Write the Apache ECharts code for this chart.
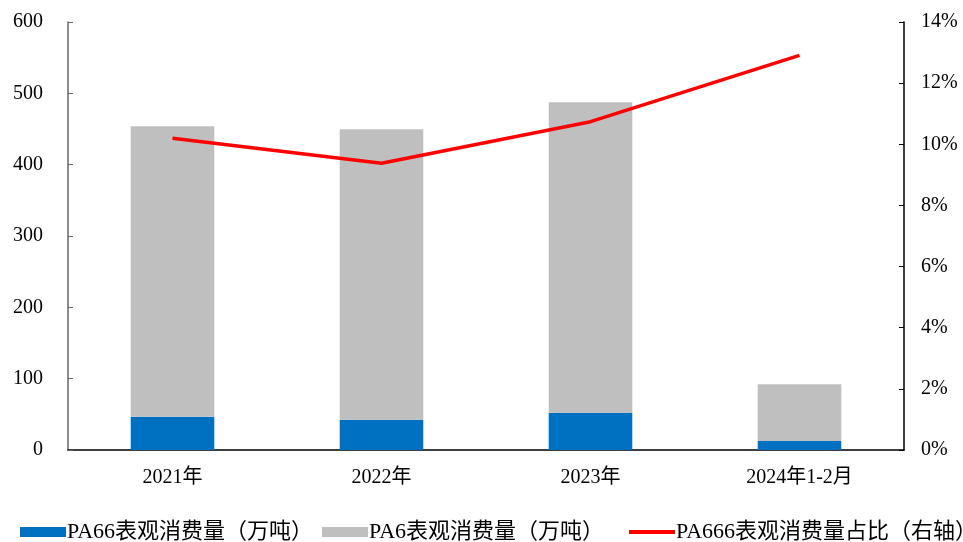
<!DOCTYPE html>
<html>
<head>
	<meta charset="UTF-8">
	<title>PA66 consumption</title>
	<style>html,body{margin:0;padding:0;background:#fff;}</style>
</head>
<body>
	<div id="main" style="width:963px;height:542px;"></div>

	<script type="text/javascript" src="https://cdn.jsdelivr.net/npm/echarts@6/dist/echarts.min.js"></script>
	<script type="text/javascript">
		var categories = ['2021年', '2022年', '2023年', '2024年1-2月'];
		// PA66 (blue, bottom of stack)
		var pa66 = [46.7, 42.5, 52.3, 12.6];
		// PA6 (gray, stacked on top)
		var pa6 = [407.3, 407.1, 435.1, 79.5];
		// ratio, right axis (%)
		var ratio = [10.2, 9.38, 10.74, 12.91];

		var leftTicks = { min: 0, max: 600, interval: 100 };
		var rightTicks = { min: 0, max: 14, interval: 2 };

		var font = '"Times New Roman","Liberation Serif","Noto Sans CJK SC",serif';

		var myChart = echarts.init(document.getElementById('main'));

		function legendFor(name, left, isLine) {
			return {
				left: left,
				top: 516,
				itemWidth: 46,
				itemHeight: isLine ? 4 : 10,
				icon: 'rect',
				itemGap: 0,
				data: [name],
				textStyle: { fontFamily: font, fontSize: 22, color: '#000', padding: [0, 0, 0, -4] }
			};
		}

		var option = {
			animation: false,
			textStyle: { fontFamily: font },
			grid: { left: 68, right: 59, top: 22, bottom: 92 },
			legend: [
				legendFor('PA66表观消费量（万吨）', 15, false),
				legendFor('PA6表观消费量（万吨）', 317, false),
				legendFor('PA666表观消费量占比（右轴）', 624, true)
			],
			xAxis: {
				type: 'category',
				data: categories,
				axisLine: { lineStyle: { color: '#000', width: 1.5 } },
				axisTick: { inside: true, length: 6, lineStyle: { color: '#000' } },
				axisLabel: { fontFamily: font, fontSize: 20, color: '#000', margin: 18 }
			},
			yAxis: [{
				type: 'value',
				min: leftTicks.min,
				max: leftTicks.max,
				interval: leftTicks.interval,
				splitLine: { show: false },
				axisLine: { show: true, lineStyle: { color: '#666', width: 1.5 } },
				axisTick: { show: true, inside: true, length: 5, lineStyle: { color: '#666' } },
				axisLabel: { fontFamily: font, fontSize: 20, color: '#000', margin: 25 }
			}, {
				type: 'value',
				position: 'right',
				min: rightTicks.min,
				max: rightTicks.max,
				interval: rightTicks.interval,
				splitLine: { show: false },
				axisLine: { show: true, lineStyle: { color: '#000', width: 1.5 } },
				axisTick: { show: true, inside: true, length: 5, lineStyle: { color: '#000' } },
				axisLabel: { fontFamily: font, fontSize: 20, color: '#000', margin: 17, formatter: '{value}%' }
			}],
			series: [{
				name: 'PA66表观消费量（万吨）',
				type: 'bar',
				stack: 'total',
				barWidth: '40%',
				data: pa66,
				itemStyle: { color: '#0070C0' }
			}, {
				name: 'PA6表观消费量（万吨）',
				type: 'bar',
				stack: 'total',
				data: pa6,
				itemStyle: { color: '#BFBFBF' }
			}, {
				name: 'PA666表观消费量占比（右轴）',
				type: 'line',
				yAxisIndex: 1,
				data: ratio,
				symbol: 'none',
				lineStyle: { color: '#FF0000', width: 3.5 },
				itemStyle: { color: '#FF0000' }
			}]
		};

		myChart.setOption(option);
	</script>
</body>
</html>
